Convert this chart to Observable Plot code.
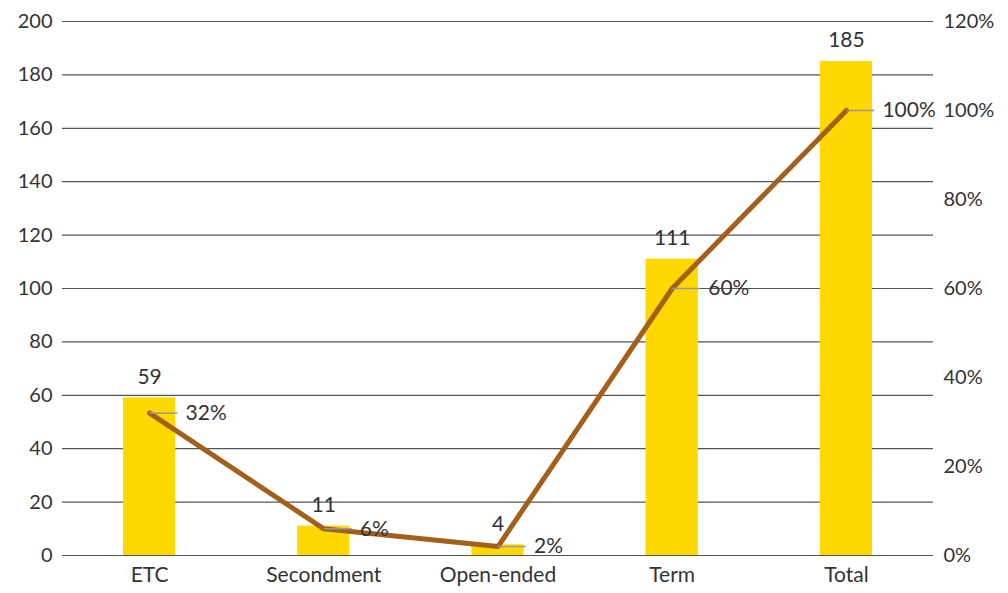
<!DOCTYPE html>
<html><head><meta charset="utf-8">
<script src="https://cdn.jsdelivr.net/npm/d3@7"></script>
<script src="https://cdn.jsdelivr.net/npm/@observablehq/plot@0.6"></script>
<style>body{margin:0;background:#fff}</style>
</head><body><div id="chart"></div>
<script>
const categories = ["ETC", "Secondment", "Open-ended", "Term", "Total"];
const counts = [59, 11, 4, 111, 185];
const shares = [32, 6, 2, 60, 100];
const leftTicks = [0, 20, 40, 60, 80, 100, 120, 140, 160, 180, 200];
const rightTicks = [0, 20, 40, 60, 80, 100, 120];

const k = 200 / 120;
const rows = categories.map((c, i) => ({i, c, n: counts[i], p: shares[i], py: shares[i] * k}));

const chart = Plot.plot({
  width: 1008, height: 593,
  marginLeft: 62, marginRight: 75, marginTop: 21, marginBottom: 38,
  style: {fontFamily: "Lato, sans-serif", fontSize: "20px", color: "#333", background: "#fff"},
  x: {type: "linear", domain: [-0.5, 4.5], axis: null},
  y: {domain: [0, 200], axis: null},
  marks: [
    Plot.ruleY(leftTicks, {stroke: "#555", strokeWidth: 1.2}),
    Plot.rectY(rows, {x1: d => d.i - 0.15, x2: d => d.i + 0.15, y1: 0, y2: "n", fill: "#FFD800"}),
    Plot.line(rows, {x: "i", y: "py", stroke: "#A3601C", strokeWidth: 5}),
    Plot.link(rows, {x1: "i", x2: d => d.i + 0.16, y1: "py", y2: "py", stroke: "#999", strokeWidth: 1.5}),
    Plot.text(rows, {x: "i", y: "n", text: d => String(d.n), dy: -21, fill: "#333", fontSize: 21}),
    Plot.text(rows, {x: "i", y: "py", text: d => d.p + "%", dx: 36, textAnchor: "start", fill: "#333", fontSize: 21}),
    Plot.axisY(leftTicks, {anchor: "left", label: null, tickSize: 0, tickPadding: 10, fontSize: 20, fill: "#333"}),
    Plot.axisY(rightTicks.map(p => p * k), {anchor: "right", label: null, tickSize: 0, tickPadding: 10, fontSize: 20, fill: "#333", tickFormat: v => Math.round(v / k) + "%"}),
    Plot.axisX(rows.map(d => d.i), {label: null, tickSize: 0, tickPadding: 12, fontSize: 21, fill: "#333", tickFormat: i => categories[i]})
  ]
});
document.getElementById("chart").append(chart);
</script>
</body></html>
